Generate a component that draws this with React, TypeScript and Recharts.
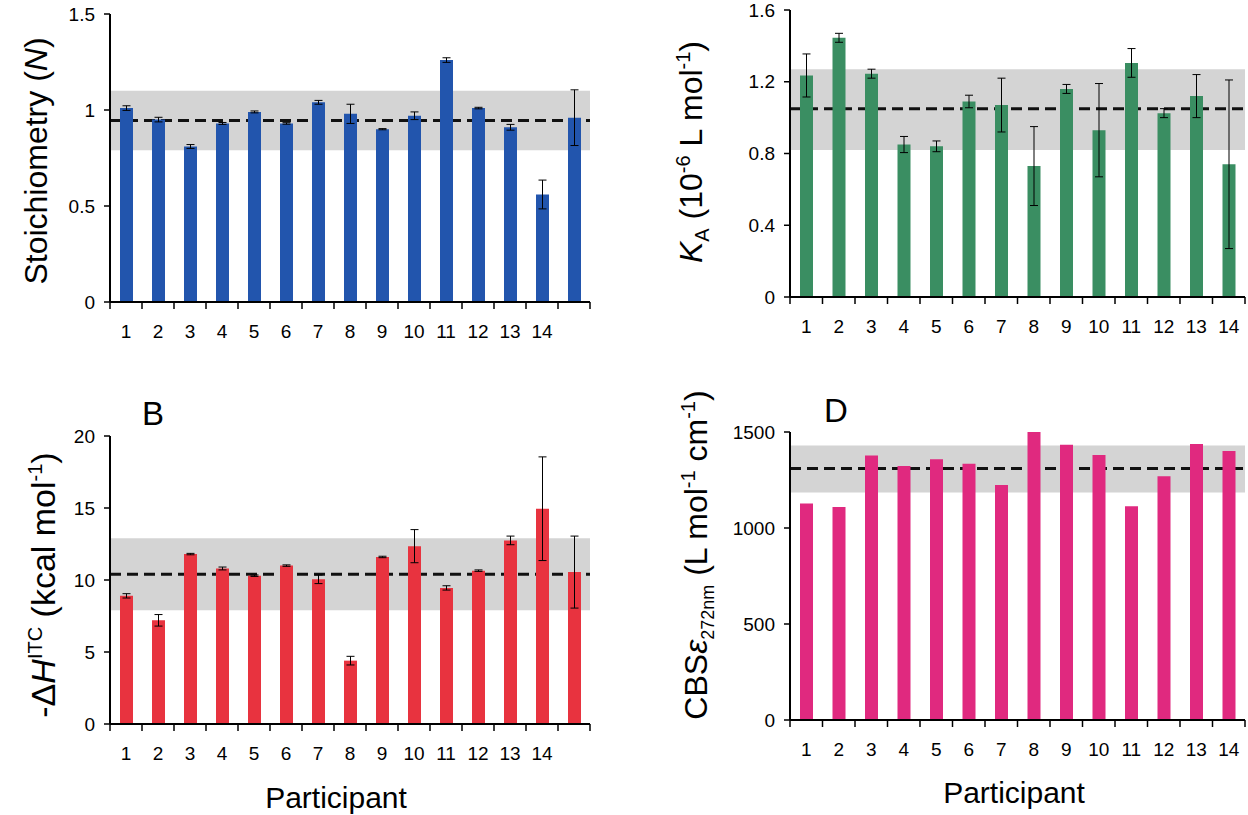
import React from 'react';
import {
  BarChart,
  Bar,
  XAxis,
  YAxis,
  ErrorBar,
  ReferenceArea,
  ReferenceLine,
} from 'recharts';

// participant labels (panels A and B carry an extra unlabelled bar)
const participants15 = ['1', '2', '3', '4', '5', '6', '7', '8', '9', '10', '11', '12', '13', '14', ''];
const participants14 = ['1', '2', '3', '4', '5', '6', '7', '8', '9', '10', '11', '12', '13', '14'];

// A: stoichiometry N
const stoichValues = [1.01, 0.95, 0.81, 0.93, 0.99, 0.93, 1.04, 0.98, 0.9, 0.97, 1.26, 1.01, 0.91, 0.56, 0.96];
const stoichErrors = [0.012, 0.012, 0.01, 0.005, 0.005, 0.004, 0.01, 0.05, 0.003, 0.02, 0.012, 0.004, 0.015, 0.075, 0.145];
const stoichBand = [0.79, 1.1];
const stoichMean = 0.945;

// C: association constant KA
const kaValues = [1.235, 1.445, 1.245, 0.85, 0.84, 1.09, 1.07, 0.73, 1.16, 0.93, 1.305, 1.025, 1.12, 0.74];
const kaErrors = [0.12, 0.025, 0.025, 0.045, 0.03, 0.035, 0.15, 0.22, 0.025, 0.26, 0.08, 0.025, 0.12, 0.47];
const kaBand = [0.82, 1.27];
const kaMean = 1.05;

// B: -dH (ITC)
const dhValues = [8.9, 7.2, 11.8, 10.8, 10.3, 11.0, 10.05, 4.4, 11.6, 12.35, 9.45, 10.65, 12.75, 14.95, 10.55];
const dhErrors = [0.15, 0.4, 0.05, 0.1, 0.05, 0.05, 0.3, 0.3, 0.05, 1.15, 0.15, 0.05, 0.3, 3.6, 2.5];
const dhBand = [7.9, 12.9];
const dhMean = 10.4;

// D: extinction coefficient at 272 nm
const epsValues = [1127, 1110, 1377, 1323, 1358, 1335, 1224, 1500, 1433, 1380, 1113, 1269, 1438, 1401];
const epsBand = [1185, 1430];
const epsMean = 1310;

const toRows = (names: string[], values: number[], errors?: number[]) =>
  names.map((name, i) => ({ name, value: values[i], err: errors ? errors[i] : 0 }));

const FONT = '"Liberation Sans", Arial, Helvetica, sans-serif';
const SUB = 20;

const XTick = (props: any) => {
  const { x, y, payload, index, band, count } = props;
  return (
    <g>
      <line x1={x - band / 2} x2={x - band / 2} y1={y} y2={y + 7} stroke="#000" strokeWidth={1.5} />
      {index === count - 1 && (
        <line x1={x + band / 2} x2={x + band / 2} y1={y} y2={y + 7} stroke="#000" strokeWidth={1.5} />
      )}
      <text x={x} y={y + 36} textAnchor="middle" fontSize={19} fill="#000">
        {payload.value}
      </text>
    </g>
  );
};

// y title, panel letter and x title drawn at fixed spots of each panel
const PanelText = ({ cx, cy, size = 32, tag, xTitle, children }: any) => (
  <g fill="#000">
    <text transform={`rotate(-90 ${cx} ${cy})`} x={cx} y={cy} textAnchor="middle" fontSize={size}>
      {children}
    </text>
    {tag && (
      <text x={tag[1]} y={tag[2]} fontSize={33}>
        {tag[0]}
      </text>
    )}
    {xTitle && (
      <text x={xTitle[0]} y={xTitle[1]} textAnchor="middle" fontSize={30}>
        Participant
      </text>
    )}
  </g>
);

interface PanelProps {
  rows: { name: string; value: number; err: number }[];
  left: number;
  top: number;
  width: number;
  height: number;
  margin: { top: number; right: number; bottom: number; left: number };
  domain: [number, number];
  ticks: number[];
  color: string;
  band: number[];
  mean: number;
  errors: boolean;
  label: React.ReactElement;
}

const YW = 110;

const Panel: React.FC<PanelProps> = ({ rows, left, top, width, height, margin, domain, ticks, color, band, mean, errors, label }) => {
  const bandW = (width - margin.left - margin.right - YW) / rows.length;
  return (
    <div style={{ position: 'absolute', left, top }}>
      <BarChart width={width} height={height} data={rows} margin={margin}>
        <ReferenceArea y1={band[0]} y2={band[1]} fill="#d4d4d4" fillOpacity={1} stroke="none" />
        <ReferenceLine y={mean} stroke="#111" strokeWidth={3} strokeDasharray="11 6" zIndex={250} />
        <XAxis
          dataKey="name"
          interval={0}
          tickSize={0}
          tickMargin={0}
          tickLine={false}
          height={40}
          axisLine={{ stroke: '#000', strokeWidth: 2 }}
          tick={<XTick band={bandW} count={rows.length} />}
        />
        <YAxis
          width={YW}
          domain={domain}
          ticks={ticks}
          interval={0}
          tickSize={6}
          tickMargin={9}
          tick={{ fill: '#000', fontSize: 19 }}
          axisLine={{ stroke: '#000', strokeWidth: 2 }}
          tickLine={{ stroke: '#000', strokeWidth: 1.5 }}
          label={label}
        />
        <Bar dataKey="value" fill={color} barSize={13} isAnimationActive={false}>
          {errors && <ErrorBar dataKey="err" width={4} stroke="#000" strokeWidth={1} direction="y" />}
        </Bar>
      </BarChart>
    </div>
  );
};

const App: React.FC = () => (
  <div style={{ position: 'absolute', left: 0, top: 0, width: 1248, height: 815, background: '#fff', fontFamily: FONT }}>
    <Panel
      rows={toRows(participants15, stoichValues, stoichErrors)}
      left={0}
      top={0}
      width={610}
      height={380}
      margin={{ top: 14, right: 20, bottom: 38, left: 0 }}
      domain={[0, 1.5]}
      ticks={[0, 0.5, 1, 1.5]}
      color="#2255ad"
      band={stoichBand}
      mean={stoichMean}
      errors
      label={
        <PanelText cx={47} cy={161}>
          Stoichiometry (<tspan fontStyle="italic">N</tspan>)
        </PanelText>
      }
    />
    <Panel
      rows={toRows(participants14, kaValues, kaErrors)}
      left={650}
      top={0}
      width={598}
      height={380}
      margin={{ top: 10, right: 3, bottom: 43, left: 30 }}
      domain={[0, 1.6]}
      ticks={[0, 0.4, 0.8, 1.2, 1.6]}
      color="#3a8e62"
      band={kaBand}
      mean={kaMean}
      errors
      label={
        <PanelText cx={52} cy={152}>
          <tspan fontStyle="italic">K</tspan>
          <tspan fontSize={SUB} dy={7}>A</tspan>
          <tspan dy={-7}>  (10</tspan>
          <tspan fontSize={SUB} dy={-12}>-6</tspan>
          <tspan dy={12}> L mol</tspan>
          <tspan fontSize={SUB} dy={-12}>-1</tspan>
          <tspan dy={12}>)</tspan>
        </PanelText>
      }
    />
    <Panel
      rows={toRows(participants15, dhValues, dhErrors)}
      left={0}
      top={380}
      width={610}
      height={435}
      margin={{ top: 56, right: 20, bottom: 51, left: 0 }}
      domain={[0, 20]}
      ticks={[0, 5, 10, 15, 20]}
      color="#e8333f"
      band={dhBand}
      mean={dhMean}
      errors
      label={
        <PanelText cx={55} cy={205} size={34} tag={['B', 142, 45]} xTitle={[336, 428]}>
          -Δ<tspan fontStyle="italic">H</tspan>
          <tspan fontSize={SUB} dy={-13}>ITC</tspan>
          <tspan dy={13}> (kcal mol</tspan>
          <tspan fontSize={SUB} dy={-13}>-1</tspan>
          <tspan dy={13}>)</tspan>
        </PanelText>
      }
    />
    <Panel
      rows={toRows(participants14, epsValues)}
      left={650}
      top={380}
      width={598}
      height={435}
      margin={{ top: 52, right: 3, bottom: 55, left: 30 }}
      domain={[0, 1500]}
      ticks={[0, 500, 1000, 1500]}
      color="#e0297f"
      band={epsBand}
      mean={epsMean}
      errors={false}
      label={
        <PanelText cx={57} cy={175} tag={['D', 174, 42]} xTitle={[364, 423]}>
          CBS<tspan fontStyle="italic">ε</tspan>
          <tspan fontSize={18} dy={7}>272nm</tspan>
          <tspan dy={-7}> (L mol</tspan>
          <tspan fontSize={SUB} dy={-12}>-1</tspan>
          <tspan dy={12}> cm</tspan>
          <tspan fontSize={SUB} dy={-12}>-1</tspan>
          <tspan dy={12}>)</tspan>
        </PanelText>
      }
    />
  </div>
);

export default App;
